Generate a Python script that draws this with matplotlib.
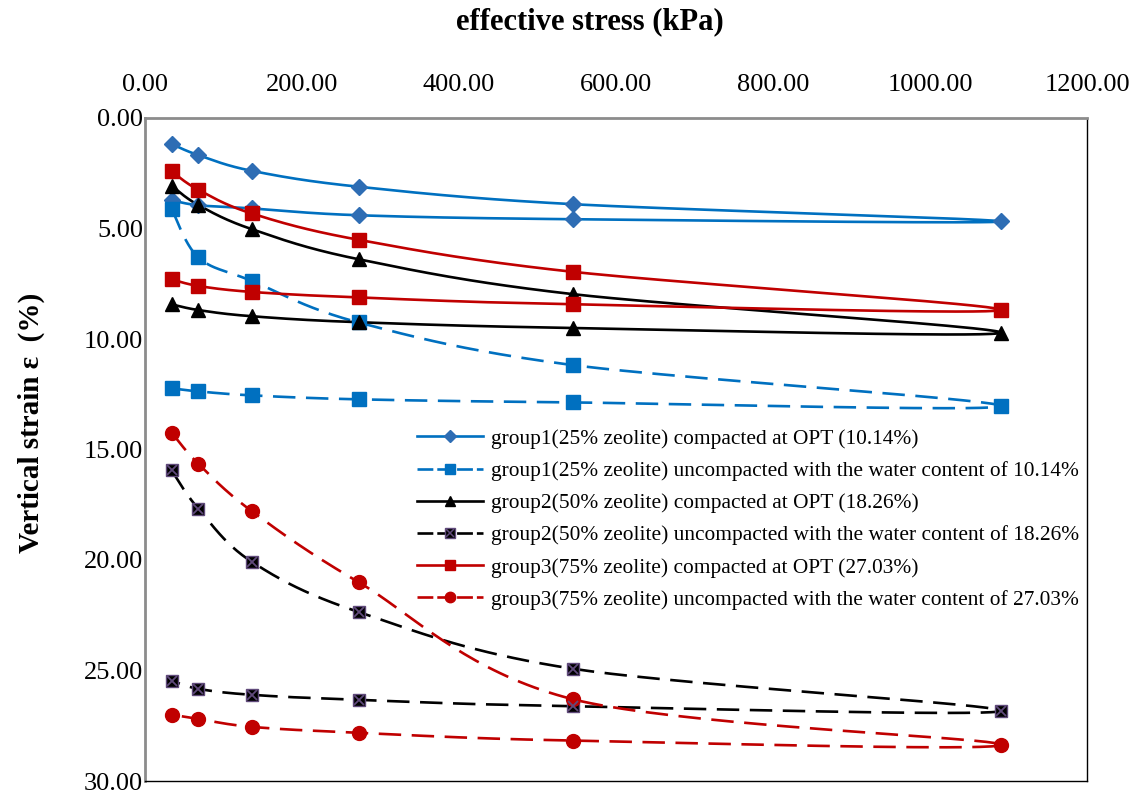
import numpy as np
import matplotlib
matplotlib.use('Agg')
import matplotlib.pyplot as plt
from matplotlib.lines import Line2D
from matplotlib.ticker import FormatStrFormatter

plt.rcParams['font.family'] = ['Liberation Serif', 'DejaVu Serif']

# ---- data ----
stress = [34, 68, 136, 272, 545, 1090]
stress_unload = [545, 272, 136, 68, 34]

g1_comp_load = [1.18, 1.68, 2.39, 3.11, 3.90, 4.68]
g1_comp_unload = [4.58, 4.40, 4.09, 3.95, 3.72]
g1_unc_load = [4.12, 6.31, 7.37, 9.25, 11.18, 13.03]
g1_unc_unload = [12.87, 12.73, 12.55, 12.37, 12.23]
g2_comp_load = [3.07, 3.94, 5.03, 6.39, 7.97, 9.71]
g2_comp_unload = [9.50, 9.24, 8.97, 8.69, 8.43]
g2_unc_load = [15.95, 17.68, 20.08, 22.35, 24.92, 26.82]
g2_unc_unload = [26.62, 26.33, 26.10, 25.83, 25.46]
g3_comp_load = [2.42, 3.25, 4.32, 5.51, 6.96, 8.68]
g3_comp_unload = [8.43, 8.12, 7.87, 7.60, 7.30]
g3_unc_load = [14.24, 15.65, 17.79, 21.00, 26.30, 28.36]
g3_unc_unload = [28.17, 27.82, 27.55, 27.19, 27.00]

labels = [
    'group1(25% zeolite) compacted at OPT (10.14%)',
    'group1(25% zeolite) uncompacted with the water content of 10.14%',
    'group2(50% zeolite) compacted at OPT (18.26%)',
    'group2(50% zeolite) uncompacted with the water content of 18.26%',
    'group3(75% zeolite) compacted at OPT (27.03%)',
    'group3(75% zeolite) uncompacted with the water content of 27.03%',
]
x_ticks = [0, 200, 400, 600, 800, 1000, 1200]
y_ticks = [0, 5, 10, 15, 20, 25, 30]

BLUE = '#0070C0'
BLUE_M = '#2E6DB4'
RED = '#C00000'
BLACK = '#000000'
PURPLE = '#604A7B'

W, H = 1138, 798
fig = plt.figure(figsize=(W / 100, H / 100), dpi=100)
L, R, T, B = 145, 1087, 118, 781
ax = fig.add_axes([L / W, 1 - B / H, (R - L) / W, (B - T) / H])
ax.set_xlim(0, 1200)
ax.set_ylim(30, 0)

sx = (R - L) / 1200.0
sy = (B - T) / 30.0


def smooth(xs, ys, n=40):
    P = np.column_stack([np.asarray(xs, float) * sx, np.asarray(ys, float) * sy])
    ext = np.vstack([P[0], P, P[-1]])
    out = []
    t = np.linspace(0, 1, n)[:, None]
    for i in range(len(P) - 1):
        p0, p1, p2, p3 = ext[i], ext[i + 1], ext[i + 2], ext[i + 3]
        c1 = p1 + (p2 - p0) / 6.0
        c2 = p2 - (p3 - p1) / 6.0
        seg = (1 - t) ** 3 * p1 + 3 * (1 - t) ** 2 * t * c1 + 3 * (1 - t) * t ** 2 * c2 + t ** 3 * p2
        out.append(seg if i == 0 else seg[1:])
    out = np.vstack(out)
    return out[:, 0] / sx, out[:, 1] / sy


LW = 1.9
DASH = (0, (8.5, 4))

series = [
    (g1_comp_load, g1_comp_unload, BLUE, '-', 'D', BLUE_M, BLUE_M, 8),
    (g1_unc_load, g1_unc_unload, BLUE, DASH, 's', BLUE, BLUE, 10),
    (g2_comp_load, g2_comp_unload, BLACK, '-', '^', BLACK, BLACK, 10),
    (g2_unc_load, g2_unc_unload, BLACK, DASH, 's', BLACK, PURPLE, 9),
    (g3_comp_load, g3_comp_unload, RED, '-', 's', RED, RED, 10),
    (g3_unc_load, g3_unc_unload, RED, DASH, 'o', RED, RED, 10),
]

handles = []
for i, (ld, ul, col, ls, mk, mfc, mec, ms) in enumerate(series):
    xs = stress + stress_unload
    ys = ld + ul
    cx, cy = smooth(xs, ys)
    ax.plot(cx, cy, color=col, lw=LW, linestyle=ls, dash_capstyle='butt', zorder=2)
    ax.plot(xs, ys, linestyle='none', marker=mk, ms=ms, mfc=mfc, mec=mec, mew=1.0, zorder=3)
    h = Line2D([], [], color=col, lw=LW, linestyle=ls if ls == '-' else (0, (6, 1.5)),
               marker=mk, ms=ms * 0.75, mfc=mfc, mec=mec, mew=1.0)
    if i == 3:
        ax.plot(xs, ys, linestyle='none', marker='x', ms=ms * 0.75, mec=PURPLE, mew=1.3, zorder=4)
        hx = Line2D([], [], linestyle='none', marker='x', ms=ms * 0.6, mec=PURPLE, mew=1.1)
        handles.append((h, hx))
    else:
        handles.append(h)

leg = fig.legend(handles, labels, loc='upper left',
                 bbox_to_anchor=(417 / W, 1 - 429 / H), frameon=False,
                 fontsize=15.4, handlelength=3.1, handletextpad=0.37,
                 labelspacing=0.57, borderpad=0, borderaxespad=0)

# axes styling
ax.xaxis.tick_top()
ax.set_xticks(x_ticks)
ax.set_yticks(y_ticks)
ax.xaxis.set_major_formatter(FormatStrFormatter('%.2f'))
ax.yaxis.set_major_formatter(FormatStrFormatter('%.2f'))
ax.tick_params(axis='x', length=0, pad=15.5, labelsize=19)
ax.tick_params(axis='y', length=0, pad=1.5, labelsize=19)

ax.spines['left'].set_color('#8C8C8C')
ax.spines['left'].set_linewidth(2.0)
ax.spines['top'].set_color('#8C8C8C')
ax.spines['top'].set_linewidth(2.0)
ax.spines['right'].set_color('#000000')
ax.spines['right'].set_linewidth(1.0)
ax.spines['bottom'].set_color('#000000')
ax.spines['bottom'].set_linewidth(1.0)

fig.text(590 / W, 1 - 22 / H, 'effective stress (kPa)', ha='center', va='center',
         fontsize=22, fontweight='bold')
fig.text(31 / W, 1 - 423 / H, 'Vertical strain ε  (%)', ha='center', va='center',
         rotation=90, fontsize=21, fontweight='bold')

fig.savefig('out.png', dpi=100)
